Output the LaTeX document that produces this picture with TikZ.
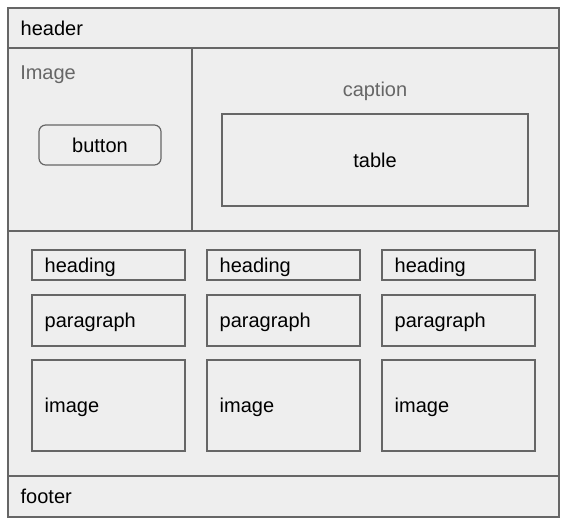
\documentclass[tikz,border=0pt]{standalone}
\usepackage{fontspec}
\setmainfont{Liberation Sans}
\usetikzlibrary{positioning,fit}
\definecolor{boxfill}{HTML}{EEEEEE}
\definecolor{boxline}{HTML}{666666}
\definecolor{dimtext}{HTML}{666666}
\begin{document}
\begin{tikzpicture}[x=0.75pt,y=-0.75pt,
  box/.style={draw=boxline, fill=boxfill, line width=0.9pt, inner sep=0pt},
  lbl/.style={inner sep=0pt, text height=13.5pt, text depth=3pt, font=\fontsize{15}{18}\selectfont},
  dim/.style={lbl, text=dimtext}]
\useasboundingbox (0,0) rectangle (567,525);
% page frame
\node[box, fit={(8,8) (559,48)}] (header) {};
\node[box, fit={(8,48) (192,231)}] (imgpanel) {};
\node[box, fit={(192,48) (559,231)}] (tabpanel) {};
\node[box, fit={(8,231) (559,476)}] (content) {};
\node[box, fit={(8,476) (559,517)}] (footer) {};
\node[lbl, right=9.75pt of header.west] (headertxt) {header};
\node[lbl, right=9.75pt of footer.west] (footertxt) {footer};
% top row
\node[dim, anchor=west] (imgtitle) at (20,72) {Image};
\node[box, rounded corners=5pt, fit={(39,125) (161,165)}] (button) {};
\node[lbl] (buttontxt) at (button.center) {button};
\node[dim] (caption) at (375,89.5) {caption};
\node[box, fit={(222,114) (528,206)}] (table) {};
\node[lbl] (tabletxt) at (table.center) {table};
% three columns
\foreach \i/\cx in {1/32, 2/207, 3/382} {
  \node[box, fit={(\cx,250) (\cx+153,280)}] (head\i) {};
  \node[box, fit={(\cx,295) (\cx+153,346)}] (para\i) {};
  \node[box, fit={(\cx,360) (\cx+153,451)}] (pic\i) {};
  \node[lbl, right=9.75pt of head\i.west] (headtxt\i) {heading};
  \node[lbl, right=9.75pt of para\i.west] (paratxt\i) {paragraph};
  \node[lbl, right=9.75pt of pic\i.west] (pictxt\i) {image};
}
\end{tikzpicture}
\end{document}
